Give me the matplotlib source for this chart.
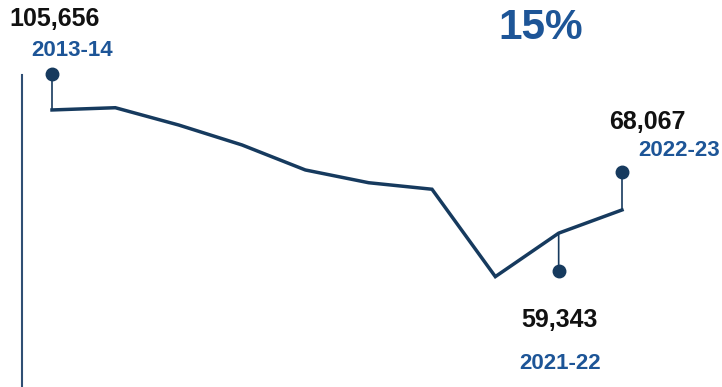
import matplotlib
matplotlib.use("Agg")
import matplotlib.pyplot as plt
from matplotlib.transforms import offset_copy

plt.rcParams["font.family"] = ["Liberation Sans", "DejaVu Sans"]

# Annual figures, 2013-14 to 2022-23
years = ["2013-14", "2014-15", "2015-16", "2016-17", "2017-18",
         "2018-19", "2019-20", "2020-21", "2021-22", "2022-23"]
values = [105656, 106500, 100000, 92500, 83100, 78300, 75850, 43000, 59343, 68067]
change_label = "15%"

# Points that carry a callout: (index, stem offset in pixels, number offset, year offset, year alignment)
callouts = [
    (0, 36, (3, 91), (20, 59), "center"),
    (8, -38, (1, -87), (1, -130), "center"),
    (9, 38, (25, 88), (16, 59), "left"),
]

LINE = "#163a5e"
BLUE = "#1d5597"
TEXT = "#111111"
AXIS = "#2f4f74"

W, H = 722, 387
fig = plt.figure(figsize=(W / 100, H / 100), dpi=100)
fig.patch.set_facecolor("white")

# axes: left spine at x=22px, top at y=75px, zero slightly below the bottom edge
ax = fig.add_axes([22 / W, -4 / H, 1 - 22 / W, (391 - 75) / H])
x = list(range(len(years)))
ax.plot(x, values, color=LINE, lw=2.5, solid_joinstyle="miter", clip_on=False)

px_per_unit = 570 / 9
ax.set_xlim(-30 / px_per_unit, (722 - 52) / px_per_unit)
ax.set_ylim(0, 118800)

for side in ("top", "right", "bottom"):
    ax.spines[side].set_visible(False)
ax.spines["left"].set_color(AXIS)
ax.spines["left"].set_linewidth(1.5)
ax.set_xticks([])
ax.set_yticks([])
ax.patch.set_alpha(0)

for i, stem, num_off, yr_off, yr_ha in callouts:
    v = values[i]
    ax.annotate("", xy=(i, v), xytext=(0, stem), textcoords="offset pixels",
                arrowprops=dict(arrowstyle="-", color=LINE, lw=1.2,
                                shrinkA=0, shrinkB=0))
    tr = offset_copy(ax.transData, fig=fig, x=0, y=stem, units="dots")
    ax.plot([i], [v], "o", ms=9, color=LINE, transform=tr, clip_on=False)
    ax.annotate(f"{v:,}", xy=(i, v), xytext=num_off, textcoords="offset pixels",
                ha="center", va="center", fontsize=18, fontweight="bold",
                color=TEXT, annotation_clip=False)
    ax.annotate(years[i], xy=(i, v), xytext=yr_off, textcoords="offset pixels",
                ha=yr_ha, va="center", fontsize=16, fontweight="bold",
                color=BLUE, annotation_clip=False)

fig.text(541 / W, 1 - 28 / H, change_label, ha="center", va="center",
         fontsize=30.5, fontweight="bold", color=BLUE)

fig.savefig("out.png", dpi=100, facecolor="white")
